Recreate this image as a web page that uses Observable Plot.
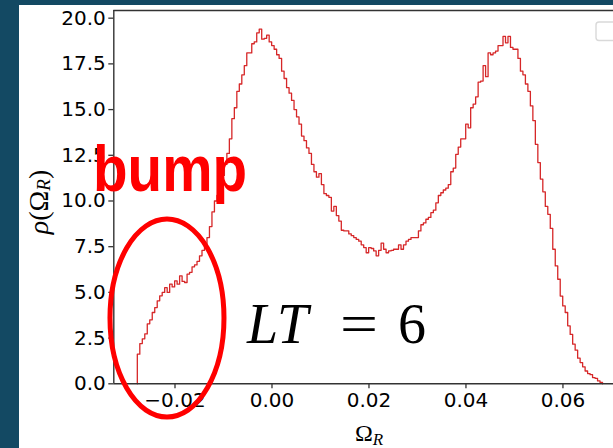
<!DOCTYPE html>
<html><head><meta charset="utf-8">
<script src="https://cdn.jsdelivr.net/npm/d3@7"></script>
<script src="https://cdn.jsdelivr.net/npm/@observablehq/plot@0.6"></script>
<style>
html,body{margin:0;padding:0;background:#134963;width:613px;height:448px;overflow:hidden}
#panel{position:absolute;left:19px;top:5px;width:594px;height:443px;background:#fff;overflow:hidden}
#panel svg{max-width:none !important}
</style></head><body><div id="panel"></div>
<script>
// Tick values
const xTicks = [-0.02, 0, 0.02, 0.04, 0.06];
const yTicks = [0, 2.5, 5, 7.5, 10, 12.5, 15, 17.5, 20];
// Histogram (step) : first bin edge, bin width, density per bin
const binStart = -0.02777;
const binWidth = 0.000513;
const density = [
  1.62, 2.2, 2.46, 2.73, 3.28, 3.5, 3.9, 4.17, 4.54, 4.81,
  5.0, 5.26, 5.0, 5.45, 5.3, 5.63, 5.45, 5.9, 5.6, 5.54,
  6.0, 6.1, 6.4, 6.5, 6.7, 7.0, 7.3, 7.6, 8.0, 8.6,
  9.4, 10.0, 10.3, 10.8, 11.4, 12.0, 12.6, 13.4, 14.5, 15.1,
  16.0, 16.4, 16.9, 17.4, 18.1, 18.1, 18.6, 18.7, 19.2, 19.4,
  18.85, 18.9, 19.07, 18.7, 18.5, 18.3, 18.0, 17.8, 17.1, 16.7,
  16.2, 15.9, 15.5, 15.0, 14.6, 14.2, 13.55, 13.3, 12.9, 12.6,
  12.0, 11.6, 11.3, 11.5, 10.9, 10.4, 10.3, 10.2, 9.45, 9.7,
  9.2, 8.9, 8.4, 8.36, 8.36, 8.2, 8.1, 8.0, 7.9, 7.8,
  7.6, 7.45, 7.17, 7.45, 7.4, 7.27, 7.0, 7.3, 7.7, 7.36,
  7.17, 7.27, 7.3, 7.36, 7.36, 7.6, 7.36, 7.6, 7.8, 7.9,
  8.0, 8.0, 8.0, 8.36, 8.7, 8.8, 9.0, 9.1, 9.36, 9.5,
  9.9, 10.3, 10.45, 10.6, 10.7, 10.9, 11.6, 11.8, 12.55, 12.95,
  13.4, 13.4, 14.2, 14.0, 15.1, 15.3, 15.7, 16.5, 16.56, 17.4,
  16.8, 18.1, 18.0, 18.1, 18.2, 18.5, 18.5, 19.0, 18.65, 19.0,
  18.4, 18.3, 18.3, 17.8, 17.1, 16.9, 16.4, 16.0, 15.2, 14.4,
  13.1, 12.1, 11.2, 10.5, 9.7, 9.27, 8.5, 7.36, 6.45, 5.72,
  4.8, 4.26, 3.9, 3.17, 2.7, 2.17, 1.84, 1.4, 1.16, 0.93,
  0.7, 0.56, 0.5, 0.34, 0.3, 0.16, 0.07
];
const xDomain = [-0.03262, 0.0729];
const yDomain = [0, 20.42];

// step outline points
const binEnd = binStart + density.length * binWidth;
const pts = [{x: binStart, y: 0}]
  .concat(density.map((v, i) => ({x: binStart + i * binWidth, y: v})))
  .concat([{x: binEnd, y: density[density.length - 1]}, {x: binEnd, y: 0}]);

const axisColor = "#333";
const plot = Plot.plot({
  width: 640, height: 443,
  marginLeft: 94.3, marginRight: 34, marginTop: 5, marginBottom: 64.7,
  style: {fontFamily: "DejaVu Sans", fontSize: "20px", color: "#000", background: "transparent", maxWidth: "none"},
  x: {domain: xDomain},
  y: {domain: yDomain},
  marks: [
    Plot.line(pts, {x: "x", y: "y", curve: "step-after", stroke: "#d62728", strokeWidth: 1.3}),
    Plot.ruleX([xDomain[0]], {stroke: axisColor, strokeWidth: 1.4}),
    Plot.ruleY([yDomain[0], yDomain[1]], {stroke: axisColor, strokeWidth: 1.4}),
    Plot.axisX(xTicks, {tickFormat: d3.format(".2f"), tickSize: 5, tickPadding: 4, label: null, stroke: axisColor, strokeWidth: 1.3, fontSize: 20}),
    Plot.axisY(yTicks, {tickFormat: d3.format(".1f"), tickSize: 5, tickPadding: 3, label: null, stroke: axisColor, strokeWidth: 1.3, fontSize: 20})
  ]
});
document.getElementById("panel").appendChild(plot);

const sx = plot.scale("x"), sy = plot.scale("y");
const svg = d3.select(plot);

// y-axis label  ρ(Ω_R)
const yl = svg.append("text")
  .attr("transform", "translate(19,197) rotate(-90)")
  .attr("text-anchor", "middle").attr("dominant-baseline", "central")
  .attr("font-family", "Liberation Serif").attr("font-size", 28).attr("fill", "#000");
yl.append("tspan").attr("font-style", "italic").text("ρ");
yl.append("tspan").text("(Ω");
yl.append("tspan").attr("font-style", "italic").attr("font-size", 19).attr("dy", 5).text("R");
yl.append("tspan").attr("dy", -5).text(")");

// x-axis label Ω_R
const xl = svg.append("text")
  .attr("x", 350).attr("y", 436)
  .attr("text-anchor", "middle")
  .attr("font-family", "Liberation Serif").attr("font-size", 24).attr("fill", "#000");
xl.append("tspan").text("Ω");
xl.append("tspan").attr("font-style", "italic").attr("font-size", 17).attr("dy", 4).text("R");

// empty legend frame (upper right)
svg.append("rect").attr("x", 577).attr("y", 17).attr("width", 30).attr("height", 18.5)
  .attr("rx", 3).attr("fill", "#fff").attr("stroke", "#d9d9d9").attr("stroke-width", 1.4);

// annotations
svg.append("ellipse")
  .attr("cx", sx.apply(-0.02155)).attr("cy", sy.apply(3.57))
  .attr("rx", 57).attr("ry", 99)
  .attr("fill", "none").attr("stroke", "#ff0000").attr("stroke-width", 5);

svg.append("text")
  .attr("x", sx.apply(-0.0368)).attr("y", sy.apply(10.52))
  .attr("text-anchor", "start")
  .attr("font-family", "Liberation Sans").attr("font-weight", "bold").attr("font-size", 64)
  .attr("textLength", 154).attr("lengthAdjust", "spacingAndGlyphs")
  .attr("fill", "#ff0000").text("bump");

const ly = sy.apply(2.2);
svg.append("text").attr("x", sx.apply(-0.00505)).attr("y", ly)
  .attr("text-anchor", "start")
  .attr("font-family", "Liberation Serif").attr("font-style", "italic").attr("font-size", 56)
  .attr("fill", "#000").text("LT");
svg.append("text").attr("x", sx.apply(0.01412)).attr("y", ly)
  .attr("text-anchor", "start")
  .attr("font-family", "Liberation Serif").attr("font-size", 56)
  .attr("textLength", 38).attr("lengthAdjust", "spacingAndGlyphs")
  .attr("fill", "#000").text("=");
svg.append("text").attr("x", sx.apply(0.02608)).attr("y", ly)
  .attr("text-anchor", "start")
  .attr("font-family", "Liberation Serif").attr("font-size", 56)
  .attr("fill", "#000").text("6");
</script></body></html>
